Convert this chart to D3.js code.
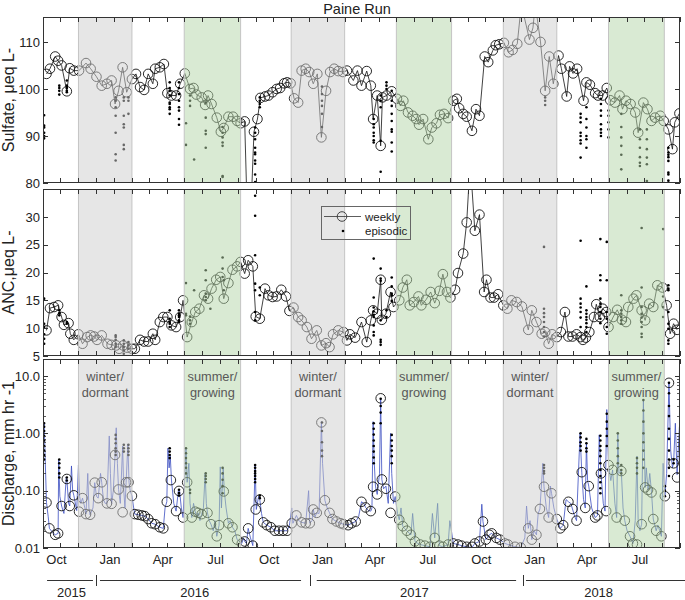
<!DOCTYPE html>
<html><head><meta charset="utf-8">
<script src="https://cdn.jsdelivr.net/npm/d3@7/dist/d3.min.js"></script>
<style>body{margin:0;background:#fff}text{font-family:"Liberation Sans",Arial,sans-serif}</style>
</head><body><svg id="c" width="685" height="600"></svg>
<script>
// ---------------- DATA ----------------
const studyStart = "2015-09-01";          // sample days are counted from this date
const xStart = "2015-09-01", xEnd = "2018-09-01";

// weekly samples: [day, value]
const so4Weekly = [[6,103.2],[12,104.3],[21,106.9],[26,106],[32,105],[41,99.5],[46,104.4],[53,103.9],[62,103.9],[74,105.5],[82,104.3],[92,102.6],[101,100.7],[110,101.1],[118,101.8],[124,96.8],[130,99.6],[137,104.6],[144,99.3],[153,102.1],[160,103.2],[167,100.4],[174,99.8],[181,103.2],[189,101.1],[193,104.3],[201,104.6],[208,105.3],[214,99.1],[221,98.6],[229,98.6],[236,101.1],[244,103.3],[253,100],[259,100.2],[264,98.8],[273,98.2],[279,96.6],[284,98.6],[290,96.8],[299,93.9],[306,90.9],[311,91.7],[319,94.1],[327,94.1],[334,93.2],[340,92.7],[347,93.1],[354,62],[363,90.9],[369,93.6],[374,98.1],[382,98.4],[388,98.6],[395,99.3],[402,100],[408,100.2],[415,101.2],[420,101.4],[426,101.2],[432,98],[439,97.1],[445,103.9],[452,104.3],[458,103.6],[465,101.1],[472,103.2],[479,89.7],[487,99.6],[494,103.6],[501,104.3],[508,103.8],[516,103.6],[523,103.9],[534,101.8],[541,103.9],[548,100.7],[557,103.8],[564,100.7],[568,93.6],[575,98.6],[581,87.9],[584,98.2],[591,98.6],[600,99.5],[609,97.9],[615,96.4],[620,97.5],[628,95],[636,94.3],[642,93.6],[647,92.4],[654,93.6],[663,89.3],[669,91.8],[677,92.7],[683,94.5],[690,94.7],[697,93.8],[706,97.5],[712,97.9],[716,95.9],[723,94.7],[729,94.1],[738,91.1],[745,95.7],[751,94.3],[760,106.9],[766,105.7],[774,108.2],[779,109.3],[785,109.5],[793,109.8],[801,107.8],[808,108.3],[816,109.6],[823,118],[837,110.5],[843,113],[847,118],[856,110],[864,99.6],[871,106.9],[878,101.1],[887,107.1],[892,104.3],[901,98.4],[906,104.8],[912,103.3],[919,104.3],[930,97.5],[935,101.4],[941,100.9],[950,99.1],[955,98.6],[963,98.6],[970,100.2],[976,97.6],[984,97.1],[992,98.6],[997,95.7],[1003,97.5],[1011,96.8],[1019,95],[1024,90.7],[1033,97.1],[1040,95.7],[1047,93.2],[1053,93.9],[1062,94.3],[1068,93.2],[1076,91.4],[1083,87.2],[1087,92.9],[1095,94.8]];

const ancWeekly = [[6,9.6],[12,13.6],[19,13.8],[26,14.1],[32,12.0],[36,10.6],[44,10.9],[47,9.0],[53,7.9],[61,8.9],[68,7.2],[76,8.4],[82,8.7],[88,8.5],[93,7.9],[101,8.7],[111,7.2],[118,7.0],[126,6.9],[131,6.3],[138,6.9],[145,6.5],[153,6.3],[158,6.3],[167,7.9],[174,7.6],[181,7.6],[189,9.0],[193,7.9],[201,11.1],[207,12.0],[214,12.0],[221,10.5],[229,10.2],[236,12.0],[241,15.0],[248,8.4],[256,11.1],[262,12.9],[269,13.5],[277,15.9],[284,15.3],[290,17.1],[298,18.7],[305,19.2],[311,15.3],[319,18.1],[326,20.5],[334,21.1],[340,21.9],[347,19.8],[353,22.2],[361,21.1],[366,12.1],[373,11.7],[382,17.1],[388,15.9],[395,15.6],[402,15.7],[410,16.9],[418,15.7],[424,13.1],[431,13.7],[439,12.0],[445,11.4],[454,10.2],[462,8.1],[471,9.6],[479,6.9],[487,7.3],[493,6.6],[499,8.9],[508,9.6],[517,9.3],[523,7.8],[528,8.9],[537,8.3],[548,11.1],[557,7.5],[564,11.4],[568,13.2],[575,12.6],[581,18.7],[583,11.5],[590,12.6],[598,16.5],[603,13.8],[613,15.0],[619,17.3],[626,18.7],[631,14.1],[638,14.7],[646,15.7],[651,14.1],[659,15.1],[667,16.5],[674,14.5],[682,16.7],[688,19.7],[695,16.5],[701,15.5],[709,16.9],[714,19.9],[723,23.4],[729,29.0],[735,40],[743,27.5],[751,30.4],[759,16.5],[763,18.7],[770,15.5],[776,15.5],[783,16.1],[792,14.1],[799,13.5],[806,15.0],[815,14.7],[824,13.9],[835,9.7],[841,13.2],[849,11.1],[858,9.0],[864,9.3],[870,7.2],[876,8.9],[884,8.4],[891,9.3],[898,12.9],[904,8.5],[911,8.5],[918,8.9],[925,8.4],[929,7.9],[934,8.3],[940,9.3],[948,12.0],[952,14.3],[958,12.0],[963,13.5],[969,12.9],[973,10.2],[981,12.0],[988,13.3],[996,11.5],[1003,11.1],[1007,13.8],[1016,15.3],[1021,15.9],[1030,13.2],[1036,11.4],[1043,14.4],[1050,13.8],[1057,17.7],[1066,17.3],[1073,14.1],[1079,9.0],[1085,10.8],[1091,9.7]];

const qWeekly = [[6,0.062],[11,0.022],[21,0.017],[26,0.018],[32,0.054],[41,0.16],[46,0.054],[53,0.083],[62,0.043],[68,0.074],[74,0.039],[81,0.038],[89,0.138],[95,0.074],[101,0.14],[110,0.06],[118,0.059],[124,0.42],[130,0.105],[137,0.042],[143,0.14],[147,0.14],[153,0.081],[158,0.039],[164,0.038],[170,0.037],[175,0.036],[181,0.032],[187,0.027],[193,0.026],[201,0.023],[207,0.022],[213,0.064],[220,0.153],[229,0.044],[234,0.099],[241,0.034],[248,0.14],[256,0.034],[262,0.043],[267,0.041],[273,0.039],[283,0.041],[289,0.026],[299,0.016],[303,0.025],[311,0.097],[319,0.027],[326,0.023],[334,0.014],[342,0.012],[347,0.013],[353,0.022],[361,0.011],[366,0.047],[373,0.07],[379,0.028],[385,0.025],[392,0.023],[399,0.02],[406,0.02],[413,0.02],[420,0.02],[428,0.027],[436,0.037],[445,0.028],[452,0.027],[459,0.027],[465,0.047],[471,0.041],[479,1.55],[485,0.068],[493,0.041],[498,0.032],[505,0.029],[512,0.027],[517,0.026],[525,0.025],[531,0.027],[538,0.029],[548,0.064],[555,0.051],[564,0.044],[568,0.117],[575,0.086],[581,4.08],[583,0.157],[590,0.108],[598,0.041],[606,0.079],[613,0.031],[619,0.024],[626,0.02],[633,0.017],[640,0.013],[649,0.0115],[657,0.011],[666,0.0105],[674,0.015],[682,0.011],[688,0.0105],[697,0.0115],[706,0.012],[714,0.0115],[720,0.011],[729,0.0105],[738,0.0105],[743,0.012],[751,0.013],[757,0.029],[762,0.014],[768,0.017],[772,0.018],[780,0.015],[786,0.014],[795,0.012],[800,0.0115],[812,0.0105],[822,0.0102],[835,0.022],[841,0.014],[849,0.017],[855,0.048],[862,0.117],[870,0.034],[875,0.09],[884,0.032],[890,0.022],[895,0.025],[904,0.064],[911,0.048],[918,0.03],[927,0.21],[933,0.05],[939,0.12],[950,0.034],[954,0.037],[960,0.2],[969,0.044],[973,0.28],[980,0.23],[987,0.034],[995,0.22],[1001,0.03],[1010,0.016],[1015,0.012],[1022,0.0115],[1030,0.026],[1036,0.114],[1041,0.103],[1047,0.093],[1050,0.032],[1055,0.02],[1064,0.016],[1070,0.08],[1077,7.6],[1085,0.30],[1091,0.17]];

// continuous discharge record (blue line): [day, mm/hr]
const qContinuous = [[0,0.9],[2,1.5],[4,0.3],[6,0.062],[9,0.035],[11,0.022],[16,0.019],[21,0.017],[26,0.018],[27,0.35],[29,0.08],[32,0.054],[36,0.04],[40,0.17],[41,0.16],[44,0.06],[46,0.054],[49,0.27],[51,0.1],[53,0.083],[58,0.045],[61,0.28],[63,0.08],[65,0.06],[68,0.074],[72,0.05],[74,0.039],[77,0.2],[79,0.05],[81,0.038],[86,0.05],[89,0.138],[92,0.08],[95,0.074],[99,0.2],[101,0.14],[104,0.07],[107,0.06],[110,0.06],[114,0.9],[116,0.2],[118,0.059],[121,0.1],[124,0.42],[126,1.25],[128,0.3],[130,0.105],[133,0.06],[137,0.6],[139,0.1],[141,0.05],[143,0.14],[146,0.65],[148,0.14],[150,0.1],[153,0.081],[156,0.05],[158,0.039],[164,0.038],[170,0.037],[175,0.036],[181,0.032],[187,0.027],[193,0.026],[201,0.023],[207,0.022],[210,0.05],[213,0.064],[215,0.55],[217,0.25],[219,0.4],[221,0.153],[225,0.06],[229,0.044],[233,0.1],[235,0.099],[238,0.05],[241,0.034],[246,0.55],[248,0.14],[251,0.3],[253,0.06],[256,0.034],[259,0.06],[262,0.043],[264,0.035],[267,0.041],[270,0.03],[273,0.039],[276,0.05],[279,0.2],[281,0.06],[283,0.041],[286,0.03],[289,0.026],[293,0.02],[296,0.03],[299,0.016],[303,0.025],[305,0.26],[307,0.05],[310,0.25],[312,0.097],[315,0.05],[319,0.027],[322,0.03],[326,0.023],[330,0.02],[334,0.014],[338,0.013],[342,0.012],[345,0.015],[347,0.013],[350,0.012],[353,0.022],[357,0.015],[361,0.011],[365,0.28],[367,0.047],[371,0.08],[373,0.07],[376,0.04],[379,0.028],[385,0.025],[392,0.023],[399,0.02],[406,0.02],[413,0.02],[420,0.02],[424,0.025],[428,0.05],[430,0.027],[436,0.037],[440,0.03],[445,0.028],[452,0.027],[457,0.1],[459,0.027],[463,0.03],[465,0.047],[468,0.035],[471,0.041],[475,0.04],[479,1.6],[481,0.3],[485,0.068],[489,0.05],[493,0.041],[498,0.032],[505,0.029],[512,0.027],[517,0.026],[525,0.025],[531,0.027],[538,0.029],[543,0.035],[548,0.064],[552,0.06],[555,0.051],[560,0.045],[564,0.044],[566,0.05],[568,1.6],[570,0.3],[572,0.12],[575,0.086],[579,0.2],[581,4.1],[583,0.157],[586,0.108],[590,0.12],[594,0.06],[598,1.0],[600,0.2],[603,0.06],[606,0.079],[610,0.04],[613,0.031],[616,0.05],[619,0.024],[622,0.022],[626,0.02],[633,0.017],[636,0.04],[640,0.013],[645,0.012],[649,0.0115],[657,0.011],[666,0.0105],[670,0.04],[674,0.015],[679,0.06],[682,0.011],[688,0.0105],[697,0.0115],[700,0.03],[706,0.012],[714,0.0115],[720,0.011],[729,0.0105],[738,0.0102],[743,0.012],[751,0.013],[755,0.058],[757,0.029],[762,0.014],[768,0.017],[772,0.018],[780,0.015],[786,0.014],[795,0.012],[800,0.0115],[812,0.0105],[822,0.0102],[829,0.015],[832,0.054],[835,0.022],[838,0.03],[841,0.014],[845,0.02],[849,0.017],[852,0.04],[855,0.048],[860,0.3],[862,0.117],[866,0.05],[870,0.034],[873,0.12],[875,0.09],[879,0.05],[884,0.032],[890,0.022],[895,0.025],[900,0.07],[904,0.064],[908,0.06],[911,0.048],[915,0.035],[918,0.03],[924,1.0],[927,0.21],[930,0.07],[933,0.05],[935,0.7],[937,0.15],[939,0.12],[944,0.05],[950,0.034],[954,0.037],[957,0.94],[960,0.2],[964,0.06],[967,0.044],[970,2.6],[973,0.28],[977,0.15],[980,0.23],[984,0.06],[987,0.034],[989,1.0],[991,0.2],[995,0.22],[998,0.05],[1001,0.03],[1005,0.02],[1010,0.016],[1015,0.012],[1019,0.03],[1022,0.4],[1024,0.03],[1027,0.02],[1030,0.026],[1033,3.8],[1036,0.114],[1038,0.25],[1041,0.103],[1044,0.2],[1047,0.093],[1050,0.032],[1055,0.02],[1058,0.025],[1061,0.02],[1064,0.016],[1067,0.3],[1070,0.08],[1073,0.2],[1077,7.6],[1080,0.5],[1083,0.25],[1085,0.31],[1088,1.5],[1091,0.19],[1095,1.3]];

// episodic (storm) samples: [day, [values]]
const so4Episodic = [[2,[94.4,92.2,91.8,90.7,90.0,89.5]],[28,[100.7,100.2,99.6,98.8]],[41,[101.8,100.7,100.2,99.6,99.3]],[125,[98.2,97.5,96.1,94.3,90.7,86.1,84.8]],[139,[98.2,97.5,94.3,92.5,91.8,88.1,87.2]],[147,[98.2,97.5,94.7]],[218,[101.4,100.2,99.6,98.6,97.1,96.8,96.1,95.7,94.7]],[234,[101.4,100.2,98.9,97.5,96.1,95.4,93.6,92.4]],[246,[92.7,88.1]],[253,[98.6,97.5,96.4]],[260,[85.0]],[280,[97.1,93.9,91.1,90.4,87.5]],[309,[91.9,90.7,89.7,88.6,87.9,81.3,81.5]],[365,[91.8,90.7,89.3,87.5,86.5,86.1,84.8,84.1,81.8,80.2]],[373,[98.2,97.5,96.8,96.1]],[480,[100.5,98.9,97.5,96.4,94.7,91.9]],[569,[93.6,92.5,91.8,90.7,90.0,89.1,88.6]],[581,[98.6,97.5,96.1,89.0,82.4]],[591,[101.4,100.7,100.0]],[600,[99.6,97.5,96.4,94.7,93.2,91.4,90.9,88.6,86.7]],[864,[98.2,97.5,96.6]],[925,[94.7,93.9,92.9,90.7,90.0,89.1,88.4,85.4]],[935,[96.1,93.6,91.8,90.0,89.3,87.5]],[960,[97.9,96.8,95.4,94.3,92.5,91.4,90.7,90.0]],[973,[95.4,94.3,92.9,91.4,89.7]],[995,[94.7,91.9,89.7,87.9,86.0,82.9]],[1027,[91.4,89.3,87.5,85.5,84.3,83.6]],[1039,[91.4,89.3,87.2,85.4,84.0,80.4]],[1076,[87.5,86.5,86.0,85.5,84.7,82.2,81.8,80.5]]];

const ancEpisodic = [[2,[15.3,10.8,10.2,8.9,8.1,7.2]],[28,[13.2,12.7,12.3]],[41,[11.1,10.8]],[125,[8.7,8.4,7.9,7.2,6.6]],[139,[7.8,7.2,6.6,6.0,5.4]],[147,[7.5,6.9,6.3]],[218,[13.2,11.7,11.1,10.8,10.2]],[234,[13.2,12.6,12.3,12.0,11.4,11.1]],[246,[18.1,12.6,12.3]],[253,[12.1,11.4,10.8]],[260,[16.8]],[280,[20.4,18.6,16.2,15.6,15.0]],[288,[13.5]],[309,[22.7,20.7,19.2]],[311,[18.6,16.8]],[365,[36.1,33.8,30.2,23.1,18.0,16.8,12.9,11.4]],[373,[17.3,15.9]],[569,[22.5,15.5,13.7,13.0,12.4,12.0,10.5,9.3,8.7]],[581,[20.7,18.9,18.5,11.4,7.9,7.5,7.0]],[591,[13.2,12.0]],[600,[19.1,17.5,16.2,15.9,14.9]],[862,[24.6,13.5,12.7,12.0,11.1,10.2,9.3,8.5]],[925,[25.7,15.3,14.4,13.7,12.9,11.9,10.2]],[935,[17.5,13.2,12.6,12.0,11.5,10.9,10.2,9.3]],[959,[26.0,19.5,18.6,15.3,14.4,13.8,12.9,11.7,10.9]],[970,[25.5,18.6,12.9,11.7,10.2,9.0]],[995,[15.9,13.2,12.6,12.0,11.4,10.8]],[1030,[28.0,17.3,13.8,12.6,11.9,11.1,10.2,9.0,8.4]],[1067,[27.8,15.7,13.8,12.0]],[1076,[17.7,17.1,16.8,12.9,10.8,9.9,7.8,7.2]]];

const qEpisodic = [[2,[1.5,1.3,1.1,0.9,0.75,0.6,0.5,0.42,0.35]],[28,[0.35,0.3,0.25,0.2,0.17]],[41,[0.17,0.15]],[125,[0.94,0.8,0.67,0.55,0.48,0.42]],[139,[0.63,0.55,0.48]],[147,[0.63,0.55,0.48,0.42]],[218,[0.55,0.48,0.42,0.37]],[234,[0.104,0.091,0.082]],[246,[0.55,0.45,0.37,0.3,0.25,0.2]],[253,[0.104,0.091]],[280,[0.2,0.18,0.16,0.14]],[309,[0.25,0.2,0.155,0.12,0.09]],[365,[0.28,0.25,0.22,0.2,0.18,0.16,0.14]],[373,[0.082,0.074]],[480,[1.55,1.1,0.7,0.5,0.4]],[569,[1.5,1.2,0.95,0.75,0.6,0.48,0.38,0.3]],[581,[4.0,3.0,2.3,1.5]],[600,[0.94,0.75,0.6,0.5,0.4,0.3]],[862,[0.28,0.25,0.22,0.2]],[925,[1.0,0.85,0.7,0.6,0.5]],[935,[0.8,0.67,0.55,0.48]],[959,[0.91,0.75,0.6,0.5,0.4,0.3,0.23,0.18,0.14,0.11,0.09]],[970,[2.2,1.6,1.2,0.9,0.6]],[989,[1.0,0.75,0.55,0.4,0.3]],[995,[0.28,0.23,0.2]],[1022,[0.37,0.3,0.25,0.2]],[1033,[3.8,2.5,1.6,1.0,0.7,0.5,0.35,0.25]],[1070,[0.12,0.1,0.08]],[1077,[7.6,5,3,2,1.2,0.8,0.5,0.35,0.25,0.18]],[1085,[0.35,0.3]]];

// seasons
const seasonType  = ["winter","summer","winter","summer","winter","summer"];
const seasonStart = ["2015-11-01","2016-05-01","2016-11-01","2017-05-01","2017-11-01","2018-05-01"];
const seasonEnd   = ["2016-02-01","2016-08-06","2017-02-01","2017-08-04","2018-02-01","2018-08-05"];
const seasonText  = {winter:["winter/","dormant"], summer:["summer/","growing"]};

// axes
const so4Domain = [80, 115.3], so4Ticks = [80, 90, 100, 110];
const ancDomain = [5, 35],     ancTicks = [5, 10, 15, 20, 25, 30];
const qDomain = [0.01, 19.8],  qTicks = [0.01, 0.1, 1, 10], qTickLabels = ["0.01","0.10","1.00","10.0"];
const yearLabels = ["2015","2016","2017","2018"];
const yearLabelAt = ["2015-10-20","2016-05-19","2017-06-01","2018-04-14"];
const yearLineStart = ["2015-09-08","2015-12-08","2016-12-15","2017-12-10"];
const yearLineEnd   = ["2015-11-26","2016-11-18","2017-11-23","2018-09-10"];
const yearBreaks = ["2015-12-01","2016-12-04","2017-12-05"];

// ---------------- DRAW ----------------
const svg = d3.select("#c");
const parse = d3.timeParse("%Y-%m-%d");
const t0 = parse(studyStart);
const toDate = d => d3.timeDay.offset(t0, d);
const L = 43, R = 680;
const x = d3.scaleTime().domain([parse(xStart), parse(xEnd)]).range([L, R]);
const X = d => x(toDate(d));
const ink = "#333";

const panels = [
  {id:"p1", top:17, bottom:183, y:d3.scaleLinear().domain(so4Domain).range([183,17]), ticks:so4Ticks, labels:so4Ticks.map(String), title:"Sulfate, μeq L-"},
  {id:"p2", top:189, bottom:356, y:d3.scaleLinear().domain(ancDomain).range([356,189]), ticks:ancTicks, labels:ancTicks.map(String), title:"ANC,μeq L-"},
  {id:"p3", top:359, bottom:548, y:d3.scaleLog().domain(qDomain).range([548,359]), ticks:qTicks, labels:qTickLabels, title:"Discharge, mm hr -1", log:true}
];

const defs = svg.append("defs");
panels.forEach(p => {
  defs.append("clipPath").attr("id","clip"+p.id).append("rect")
    .attr("x", L).attr("y", p.top).attr("width", R-L).attr("height", p.bottom-p.top);
});

function flatten(ev){ const out=[]; ev.forEach(([d,vs])=>vs.forEach(v=>out.push([d,v]))); return out; }

function drawData(p, weekly, episodic, connect, cont){
  const g = svg.append("g").attr("clip-path","url(#clip"+p.id+")");
  if (cont) {
    g.append("path").datum(cont)
      .attr("d", d3.line().x(d=>X(d[0])).y(d=>p.y(d[1])))
      .attr("fill","none").attr("stroke","#3a4cc0").attr("stroke-width",0.8);
  }
  if (connect) {
    g.append("path").datum(weekly)
      .attr("d", d3.line().x(d=>X(d[0])).y(d=>p.y(d[1])))
      .attr("fill","none").attr("stroke","#111").attr("stroke-width",0.8);
  }
  g.selectAll("circle.w").data(weekly).join("circle").attr("class","w")
    .attr("cx", d=>X(d[0])).attr("cy", d=>p.y(d[1])).attr("r",4.8)
    .attr("fill","none").attr("stroke","#111").attr("stroke-width",0.9);
  g.selectAll("circle.e").data(flatten(episodic)).join("circle").attr("class","e")
    .attr("cx", d=>X(d[0])).attr("cy", d=>p.y(d[1])).attr("r",1.3).attr("fill","#000");
}

drawData(panels[0], so4Weekly, so4Episodic, true, null);
drawData(panels[1], ancWeekly, ancEpisodic, true, null);
drawData(panels[2], qWeekly, qEpisodic, false, qContinuous);

// season shading overlays
const seasonFill = {winter:"#cdcdcd", summer:"#b3d5a7"};
panels.forEach(p => {
  const g = svg.append("g");
  seasonType.forEach((t,i) => {
    const x0 = x(parse(seasonStart[i])), x1 = x(parse(seasonEnd[i]));
    g.append("rect").attr("x",x0).attr("y",p.top).attr("width",x1-x0).attr("height",p.bottom-p.top)
      .attr("fill",seasonFill[t]).attr("fill-opacity",0.5);
    [x0,x1].forEach(xx => g.append("line").attr("x1",xx).attr("x2",xx).attr("y1",p.top).attr("y2",p.bottom)
      .attr("stroke","#c4c4c4").attr("stroke-width",1));
  });
});

// frames, ticks, labels
const months = x.ticks(d3.timeMonth.every(1));
panels.forEach(p => {
  const g = svg.append("g");
  g.append("rect").attr("x",L+0.5).attr("y",p.top+0.5).attr("width",R-L-1).attr("height",p.bottom-p.top-1)
    .attr("fill","none").attr("stroke",ink).attr("stroke-width",1);
  months.forEach(m => {
    const xx = Math.round(x(m))+0.5;
    g.append("line").attr("x1",xx).attr("x2",xx).attr("y1",p.top).attr("y2",p.top+5).attr("stroke",ink);
    g.append("line").attr("x1",xx).attr("x2",xx).attr("y1",p.bottom).attr("y2",p.bottom-5).attr("stroke",ink);
  });
  p.ticks.forEach((t,i) => {
    const yy = Math.round(p.y(t))+0.5;
    g.append("line").attr("x1",L).attr("x2",L+5).attr("y1",yy).attr("y2",yy).attr("stroke",ink);
    g.append("line").attr("x1",R).attr("x2",R-5).attr("y1",yy).attr("y2",yy).attr("stroke",ink);
    g.append("text").attr("x",40).attr("y",p.y(t)).attr("dy","0.36em").attr("text-anchor","end")
      .attr("font-size",13).attr("fill","#222").text(p.labels[i]);
  });
  if (p.log) {
    for (let e=-2; e<=1; e++) for (let k=2; k<=9; k++) {
      const v = k*Math.pow(10,e);
      if (v < qDomain[0] || v > qDomain[1]) continue;
      const yy = Math.round(p.y(v))+0.5;
      g.append("line").attr("x1",L).attr("x2",L+3).attr("y1",yy).attr("y2",yy).attr("stroke",ink).attr("stroke-width",0.8);
      g.append("line").attr("x1",R).attr("x2",R-3).attr("y1",yy).attr("y2",yy).attr("stroke",ink).attr("stroke-width",0.8);
    }
  }
  g.append("text").attr("transform",`translate(14,${(p.top+p.bottom)/2}) rotate(-90)`)
    .attr("text-anchor","middle").attr("font-size",16).attr("fill","#222").text(p.title);
});

// season labels in discharge panel
seasonType.forEach((t,i) => {
  const cx = (x(parse(seasonStart[i])) + x(parse(seasonEnd[i]))) / 2;
  seasonText[t].forEach((s,j) => svg.append("text").attr("x",cx).attr("y",381+16*j)
    .attr("text-anchor","middle").attr("font-size",12.8).attr("fill","#585858").text(s));
});

// month labels
const fmt = d3.timeFormat("%b");
x.ticks(d3.timeMonth.every(3)).filter(d => d >= parse("2015-10-01")).forEach(m => {
  svg.append("text").attr("x", x(m)-4).attr("y",564).attr("text-anchor","middle")
    .attr("font-size",13).attr("fill","#222").text(fmt(m));
});

// year axis
yearLabels.forEach((yl,i) => {
  svg.append("line").attr("x1",x(parse(yearLineStart[i]))).attr("x2",x(parse(yearLineEnd[i])))
    .attr("y1",580.5).attr("y2",580.5).attr("stroke",ink).attr("stroke-width",1);
  svg.append("text").attr("x",x(parse(yearLabelAt[i]))).attr("y",597).attr("text-anchor","middle")
    .attr("font-size",13).attr("fill","#222").text(yl);
});
yearBreaks.forEach(b => {
  const xx = Math.round(x(parse(b)))+0.5;
  svg.append("line").attr("x1",xx).attr("x2",xx).attr("y1",575).attr("y2",586).attr("stroke",ink);
});

// title
svg.append("text").attr("x",357).attr("y",13.5).attr("text-anchor","middle").attr("font-size",14.5)
  .attr("fill","#222").text("Paine Run");

// legend
const lg = svg.append("g");
lg.append("rect").attr("x",321.5).attr("y",206.5).attr("width",89).attr("height",33)
  .attr("fill","none").attr("stroke","#666").attr("stroke-width",1);
lg.append("line").attr("x1",324).attr("x2",361).attr("y1",216.5).attr("y2",216.5).attr("stroke","#333").attr("stroke-width",0.8);
lg.append("circle").attr("cx",342).attr("cy",216.5).attr("r",4.8).attr("fill","none").attr("stroke","#333").attr("stroke-width",0.9);
lg.append("circle").attr("cx",343).attr("cy",231).attr("r",1.3).attr("fill","#000");
lg.append("text").attr("x",365).attr("y",221).attr("font-size",11.5).attr("fill","#222").text("weekly");
lg.append("text").attr("x",365).attr("y",235).attr("font-size",11.5).attr("fill","#222").text("episodic");
</script></body></html>
